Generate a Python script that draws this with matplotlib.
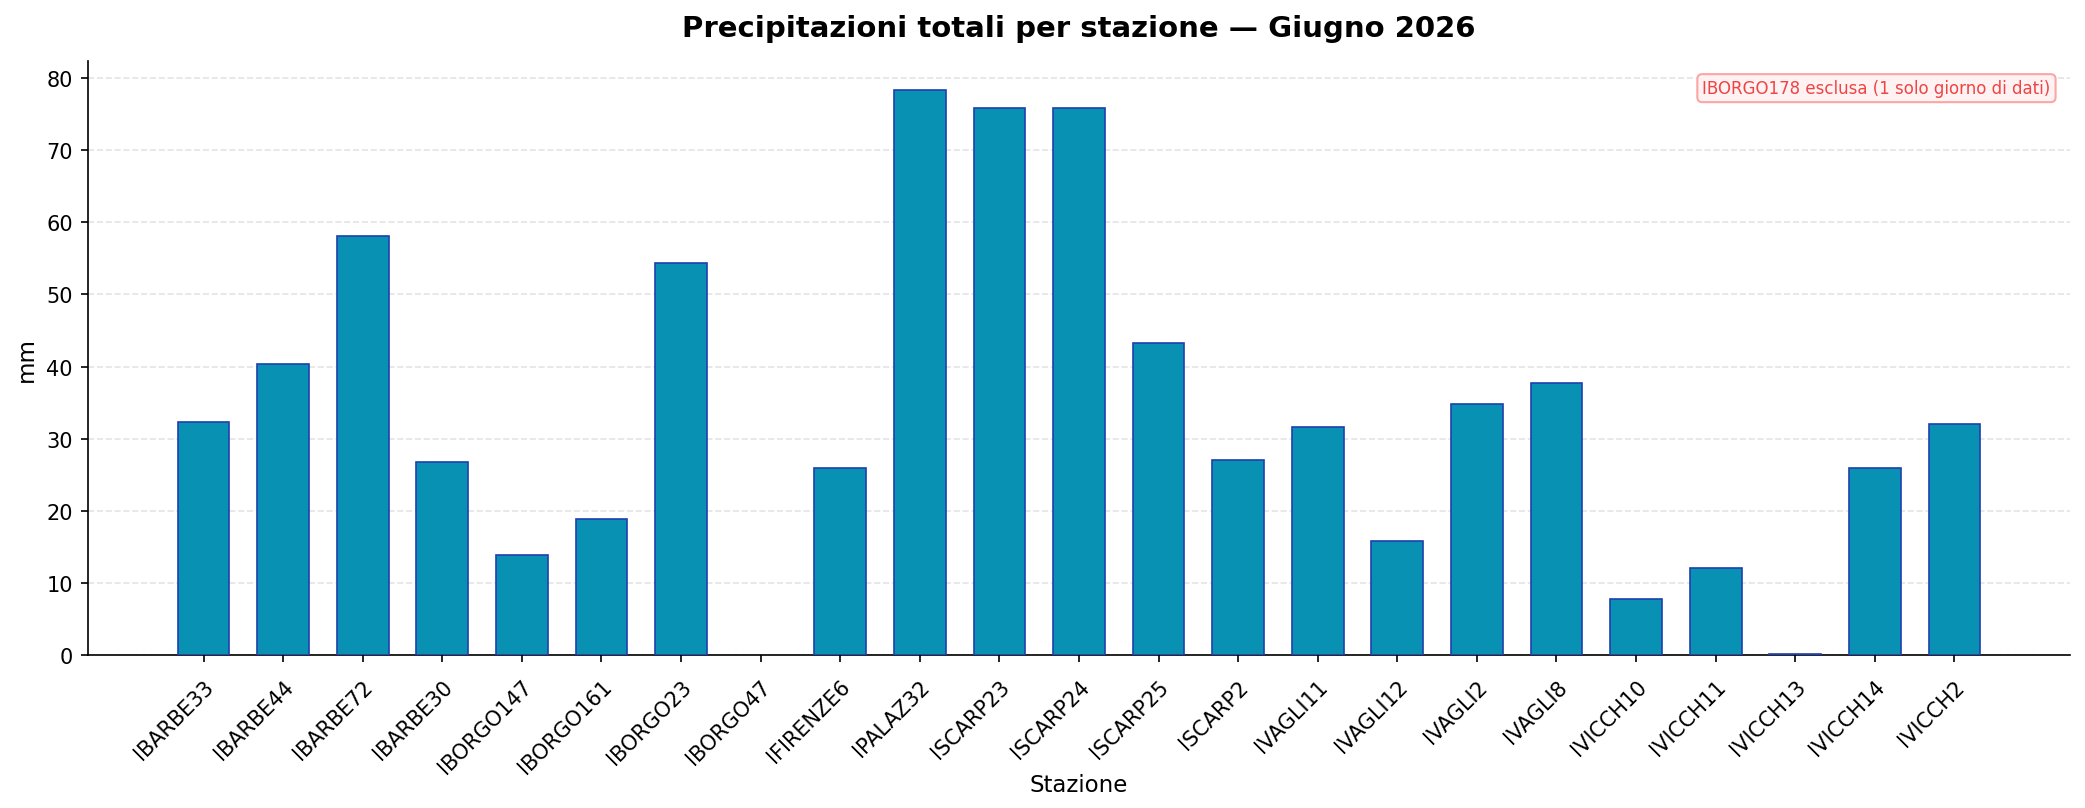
import matplotlib
matplotlib.use("Agg")
import matplotlib.pyplot as plt
import numpy as np

# Stazioni e precipitazioni totali (mm) - giugno 2026
STATIONS = ['IBARBE33', 'IBARBE44', 'IBARBE72', 'IBARBE30', 'IBORGO147',
            'IBORGO161', 'IBORGO23', 'IBORGO47', 'IFIRENZE6', 'IPALAZ32',
            'ISCARP23', 'ISCARP24', 'ISCARP25', 'ISCARP2', 'IVAGLI11',
            'IVAGLI12', 'IVAGLI2', 'IVAGLI8', 'IVICCH10', 'IVICCH11',
            'IVICCH13', 'IVICCH14', 'IVICCH2']
# IBORGO47 senza dati -> nan (nessuna barra)
RAIN_MM = [32.3, 40.3, 58.1, 26.8, 13.9,
           18.9, 54.3, float('nan'), 25.9, 78.4,
           75.9, 75.8, 43.3, 27.1, 31.6,
           15.8, 34.8, 37.7, 7.8, 12.1,
           0.2, 25.9, 32.0]

NOTE = "IBORGO178 esclusa (1 solo giorno di dati)"


def main():
    fig, ax = plt.subplots(figsize=(13.9, 5.393), dpi=150)

    x = np.arange(len(STATIONS))
    ax.bar(x, RAIN_MM, width=0.65, color='#0891b2', edgecolor='#1e40af',
           linewidth=0.8, zorder=3)

    ax.set_xticks(x)
    ax.set_xticklabels(STATIONS, rotation=45, ha='right', fontsize=10,
                       rotation_mode='anchor')
    ax.tick_params(axis='x', pad=6.5)
    ax.tick_params(axis='y', labelsize=10)

    ax.set_title('Precipitazioni totali per stazione — Giugno 2026',
                 fontsize=14, fontweight='bold', pad=12)
    ax.set_xlabel('Stazione', fontsize=11, labelpad=-2)
    ax.set_ylabel('mm', fontsize=11)

    # griglia orizzontale leggera
    ax.grid(axis='y', linestyle='--', color='#dddddd', alpha=0.8, zorder=0)
    ax.spines['top'].set_visible(False)
    ax.spines['right'].set_visible(False)

    # nota sulla stazione esclusa
    ax.text(0.99, 0.97, NOTE, transform=ax.transAxes, ha='right', va='top',
            fontsize=8, color='#ef4444',
            bbox=dict(boxstyle='round,pad=0.3', facecolor='#fef2f2',
                      edgecolor='#fca5a5'))

    fig.subplots_adjust(left=0.042, right=0.993, top=0.923, bottom=0.189)
    fig.savefig('out.png', dpi=150)


main()
